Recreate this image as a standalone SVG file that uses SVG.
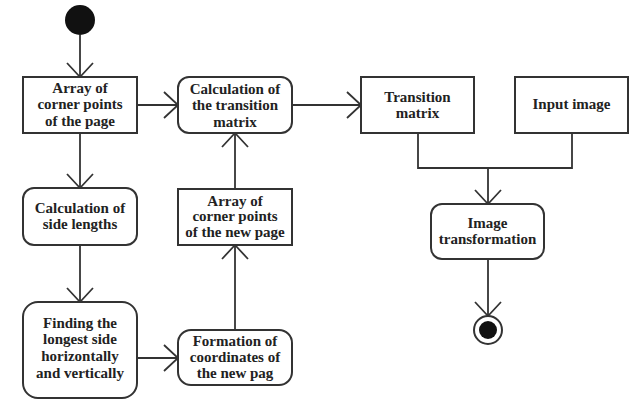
<svg xmlns="http://www.w3.org/2000/svg" width="629" height="400" viewBox="0 0 629 400">
<style>
.box{fill:#fff;stroke:#333;stroke-width:2}
.t{font-weight:bold;font-size:15px;fill:#222;text-anchor:middle}
.c{fill:none;stroke:#333;stroke-width:1.8}
</style>
<defs>
<marker id="arr" viewBox="-16 -15 18 30" refX="0" refY="0" markerWidth="18" markerHeight="30" markerUnits="userSpaceOnUse" orient="auto">
<path d="M-14,-13 L0,0 L-14,13" fill="none" stroke="#333" stroke-width="1.8"/>
</marker>
</defs>
<rect width="629" height="400" fill="#fff"/>
<g id="connectors">
<path class="c" d="M80,35 V77" marker-end="url(#arr)"/>
<path class="c" d="M137,105 H178" marker-end="url(#arr)"/>
<path class="c" d="M292,105 H361" marker-end="url(#arr)"/>
<path class="c" d="M80,133 V188" marker-end="url(#arr)"/>
<path class="c" d="M80,245 V302" marker-end="url(#arr)"/>
<path class="c" d="M137,358 H178" marker-end="url(#arr)"/>
<path class="c" d="M235,330 V245" marker-end="url(#arr)"/>
<path class="c" d="M235,189 V133" marker-end="url(#arr)"/>
<path class="c" d="M418,133 V168 H572 V133"/>
<path class="c" d="M488,168 V204" marker-end="url(#arr)"/>
<path class="c" d="M488,259 V316" marker-end="url(#arr)"/>
</g>
<g font-family="'Liberation Serif', 'DejaVu Serif', serif">
<g id="start"><circle cx="80" cy="20" r="15" fill="#111"/></g>
<g id="n1"><rect class="box" x="23" y="77" width="114" height="56"/>
<text class="t" x="80" y="93">Array of</text><text class="t" x="80" y="109">corner points</text><text class="t" x="80" y="126">of the page</text></g>
<g id="n2"><rect class="box" x="178" y="77" width="114" height="56" rx="11"/>
<text class="t" x="235" y="94">Calculation of</text><text class="t" x="235" y="110">the transition</text><text class="t" x="235" y="127">matrix</text></g>
<g id="n3"><rect class="box" x="361" y="77" width="113" height="56"/>
<text class="t" x="417.5" y="102">Transition</text><text class="t" x="417.5" y="118">matrix</text></g>
<g id="n4"><rect class="box" x="515" y="77" width="113" height="56"/>
<text class="t" x="571.5" y="109">Input image</text></g>
<g id="n5"><rect class="box" x="23" y="188" width="114" height="57" rx="11"/>
<text class="t" x="80" y="213">Calculation of</text><text class="t" x="80" y="229">side lengths</text></g>
<g id="n6"><rect class="box" x="178" y="189" width="114" height="56"/>
<text class="t" x="235" y="206">Array of</text><text class="t" x="235" y="221">corner points</text><text class="t" x="235" y="237">of the new page</text></g>
<g id="n7"><rect class="box" x="431" y="204" width="113" height="55" rx="11"/>
<text class="t" x="487.5" y="228">Image</text><text class="t" x="487.5" y="244">transformation</text></g>
<g id="n8"><rect class="box" x="23" y="302" width="114" height="96" rx="15"/>
<text class="t" x="80" y="328">Finding the</text><text class="t" x="80" y="344">longest side</text><text class="t" x="80" y="361">horizontally</text><text class="t" x="80" y="378">and vertically</text></g>
<g id="n9"><rect class="box" x="178" y="330" width="114" height="55" rx="13"/>
<text class="t" x="235" y="346">Formation of</text><text class="t" x="235" y="362">coordinates of</text><text class="t" x="235" y="378">the new pag</text></g>
<g id="end"><circle cx="488" cy="330" r="14" fill="#fff" stroke="#333" stroke-width="2"/><circle cx="488" cy="330" r="9" fill="#111"/></g>
</g>
</svg>
